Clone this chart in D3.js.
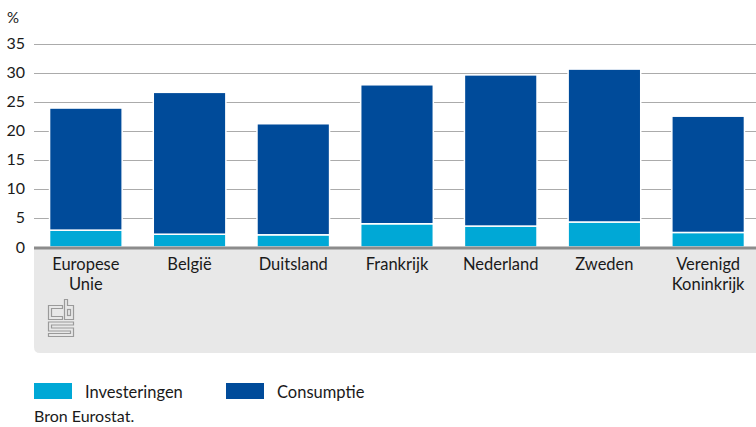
<!DOCTYPE html>
<html>
<head>
<meta charset="utf-8">
<script src="https://cdn.jsdelivr.net/npm/d3@7"></script>
<style>
  body { margin: 0; background: #fff; }
  text { font-family: Lato, "Open Sans", sans-serif; fill: #1a1a1a; }
</style>
</head>
<body>
<svg id="chart" width="756" height="427"></svg>
<script>
const categories = ['Europese Unie', 'België', 'Duitsland', 'Frankrijk', 'Nederland', 'Zweden', 'Verenigd Koninkrijk'];
const investeringen = [2.9, 2.2, 2.1, 4.0, 3.6, 4.3, 2.5];
const consumptie = [21.0, 24.4, 19.1, 23.9, 26.0, 26.3, 20.0];
const yTicks = [0, 5, 10, 15, 20, 25, 30, 35];
const seriesNames = ['Investeringen', 'Consumptie'];
const colors = ['#00a8d6', '#004b9a'];

const svg = d3.select('#chart');
const margin = { left: 34, top: 43.5, bottom: 247 };

const x = d3.scaleBand()
  .domain(categories)
  .range([margin.left, 760])
  .paddingInner(0.3)
  .paddingOuter(0.15);

const y = d3.scaleLinear()
  .domain([0, 35])
  .range([margin.bottom, margin.top]);

// grey panel under the axis
svg.append('path')
  .attr('d', `M${margin.left},${margin.bottom} H756 V353 H${margin.left + 6} Q${margin.left},353 ${margin.left},347 Z`)
  .attr('fill', '#e8e8e8');

// gridlines
svg.append('g')
  .selectAll('line')
  .data(yTicks.filter(d => d > 0))
  .join('line')
  .attr('x1', margin.left)
  .attr('x2', 756)
  .attr('y1', d => Math.round(y(d)) + 0.5)
  .attr('y2', d => Math.round(y(d)) + 0.5)
  .attr('stroke', '#ababab')
  .attr('stroke-width', 1);

// y labels
svg.append('g')
  .selectAll('text')
  .data(yTicks)
  .join('text')
  .attr('x', 25)
  .attr('y', d => y(d) + 5.5)
  .attr('text-anchor', 'end')
  .style('font-size', '16px')
  .text(d => d);

svg.append('text')
  .attr('x', 7)
  .attr('y', 23)
  .style('font-size', '15px')
  .text('%');

// stacked bars
const rows = categories.map((c, i) => ({ cat: c, Investeringen: investeringen[i], Consumptie: consumptie[i] }));
const stack = d3.stack().keys(seriesNames)(rows);

svg.append('g')
  .selectAll('g')
  .data(stack)
  .join('g')
  .attr('fill', (d, i) => colors[i])
  .selectAll('rect')
  .data(d => d)
  .join('rect')
  .attr('x', d => x(d.data.cat))
  .attr('width', x.bandwidth())
  .attr('y', d => y(d[1]))
  .attr('height', d => y(d[0]) - y(d[1]))
  .attr('stroke', '#fff')
  .attr('stroke-width', 1.5);

// baseline
svg.append('line')
  .attr('x1', margin.left)
  .attr('x2', 756)
  .attr('y1', y(0) + 1)
  .attr('y2', y(0) + 1)
  .attr('stroke', '#8c8c8c')
  .attr('stroke-width', 3);

// category labels
const labelLines = {
  'Europese Unie': ['Europese', 'Unie'],
  'Verenigd Koninkrijk': ['Verenigd', 'Koninkrijk']
};
const lbl = svg.append('g')
  .selectAll('text')
  .data(categories)
  .join('text')
  .attr('text-anchor', 'middle')
  .attr('x', d => x(d) + x.bandwidth() / 2)
  .attr('y', 269.5)
  .style('font-size', '16.5px');
lbl.selectAll('tspan')
  .data(d => labelLines[d] || [d])
  .join('tspan')
  .attr('x', function () { return d3.select(this.parentNode).attr('x'); })
  .attr('dy', (d, i) => i === 0 ? 0 : 20)
  .text(d => d);

// cbs logo (simplified)
const logo = svg.append('g')
  .attr('transform', 'translate(48,299)')
  .attr('fill', 'none')
  .attr('stroke', '#9a9a9a')
  .attr('stroke-width', 1.2);
logo.append('path').attr('d', 'M0.5,6.5 H14.5 V9.5 H3.5 V17.5 H14.5 V20.5 H0.5 Z');
logo.append('path').attr('d', 'M16.5,0.5 H19.5 V6.5 H25.5 V20.5 H16.5 Z');
logo.append('rect').attr('x', 19.5).attr('y', 10.5).attr('width', 3).attr('height', 6);
logo.append('path').attr('d', 'M0.5,23 H25.5 V26 H3.5 V29 H25.5 V37.5 H0.5 V34.5 H22.5 V32 H0.5 Z');

// legend
const legend = svg.append('g');
const legendX = [34, 226];
seriesNames.forEach((s, i) => {
  legend.append('rect')
    .attr('x', legendX[i]).attr('y', 383)
    .attr('width', 38).attr('height', 16)
    .attr('fill', colors[i]);
  legend.append('text')
    .attr('x', legendX[i] + 51).attr('y', 398)
    .style('font-size', '16.5px')
    .text(s);
});

svg.append('text')
  .attr('x', 34)
  .attr('y', 422)
  .style('font-size', '16px')
  .text('Bron Eurostat.');
</script>
</body>
</html>
